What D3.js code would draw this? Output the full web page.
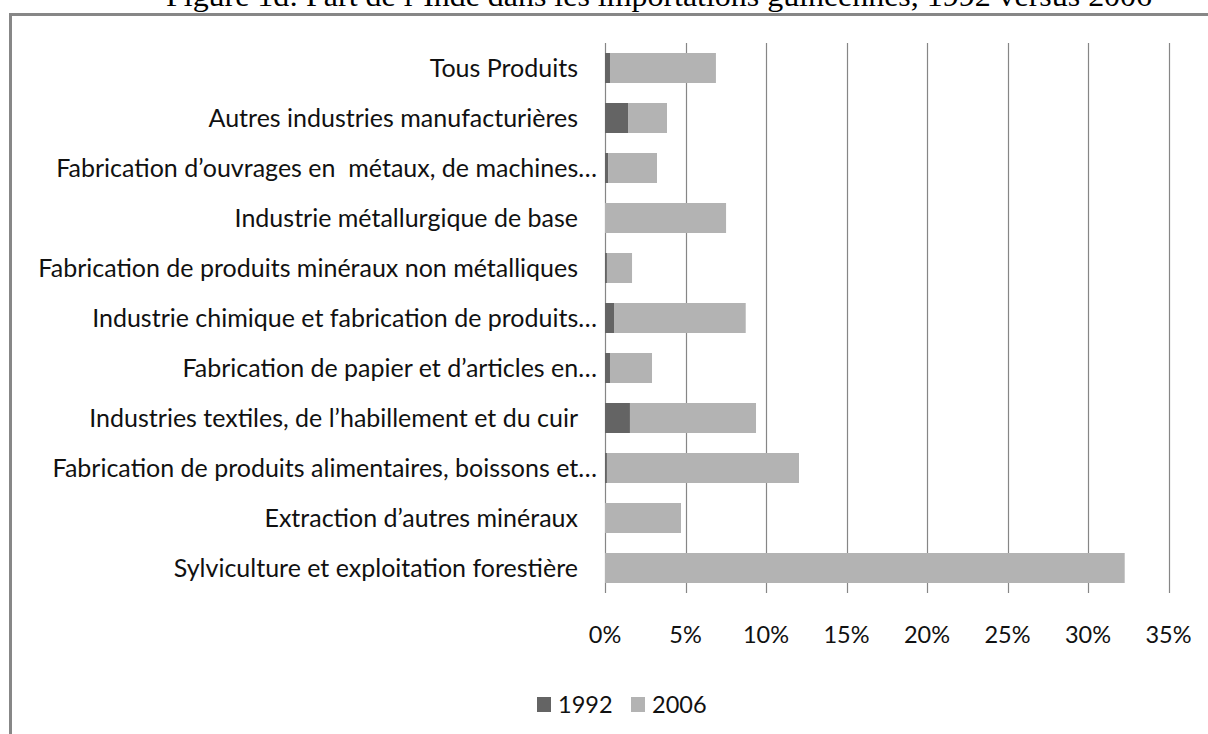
<!DOCTYPE html>
<html>
<head>
<meta charset="utf-8">
<script src="https://cdn.jsdelivr.net/npm/d3@7"></script>
<style>
  body { margin: 0; background: #fff; }
  svg { display: block; }
</style>
</head>
<body>
<svg width="1208" height="734"></svg>
<script>
var categories = [
  "Tous Produits",
  "Autres industries manufacturières",
  "Fabrication d’ouvrages en  métaux, de machines…",
  "Industrie métallurgique de base",
  "Fabrication de produits minéraux non métalliques",
  "Industrie chimique et fabrication de produits…",
  "Fabrication de papier et d’articles en…",
  "Industries textiles, de l’habillement et du cuir",
  "Fabrication de produits alimentaires, boissons et…",
  "Extraction d’autres minéraux",
  "Sylviculture et exploitation forestière"
];
var values1992 = [0.31, 1.43, 0.19, 0, 0.12, 0.56, 0.31, 1.55, 0.12, 0, 0];
var values2006 = [6.58, 2.42, 3.04, 7.52, 1.56, 8.18, 2.61, 7.83, 11.93, 4.72, 32.28];
var xTicks = [0, 5, 10, 15, 20, 25, 30, 35];
var seriesNames = ["1992", "2006"];

var svg = d3.select("svg"),
    font = "Lato, 'Open Sans', sans-serif";

var color = d3.scaleOrdinal().domain(seriesNames).range(["#646464", "#b3b3b3"]);

// title, clipped by the top of the page like in the scan
svg.append("text")
    .attr("x", 659)
    .attr("y", 6)
    .attr("text-anchor", "middle")
    .attr("font-family", "'Liberation Serif', 'Times New Roman', serif")
    .attr("font-size", 30)
    .attr("textLength", 986)
    .attr("lengthAdjust", "spacingAndGlyphs")
    .text("Figure 1d: Part de l’Inde dans les importations guinéennes, 1992 versus 2006");

// chart frame
svg.append("rect")
    .attr("x", 10.5)
    .attr("y", 14.5)
    .attr("width", 1300)
    .attr("height", 800)
    .attr("fill", "none")
    .attr("stroke", "#878787")
    .attr("stroke-width", 3);

var x = d3.scaleLinear().domain([0, 35]).range([605, 1168.5]);
var y = d3.scaleBand().domain(categories).range([43, 593]).paddingInner(0.4).paddingOuter(0.2);

var table = categories.map(function(c, i) {
  return {cat: c, "1992": values1992[i], "2006": values2006[i]};
});
var stacked = d3.stack().keys(seriesNames)(table);

// gridlines
svg.append("g").selectAll("line")
    .data(xTicks)
    .enter().append("line")
    .attr("x1", function(d) { return Math.round(x(d)) + 0.5; })
    .attr("x2", function(d) { return Math.round(x(d)) + 0.5; })
    .attr("y1", 43)
    .attr("y2", 593)
    .attr("stroke", "#868686")
    .attr("stroke-width", 1.2);

// bars
svg.append("g").selectAll("g")
    .data(stacked)
    .enter().append("g")
    .attr("fill", function(d) { return color(d.key); })
    .selectAll("rect")
    .data(function(d) { return d; })
    .enter().append("rect")
    .attr("x", function(d) { return x(d[0]); })
    .attr("width", function(d) { return x(d[1]) - x(d[0]); })
    .attr("y", function(d) { return y(d.data.cat); })
    .attr("height", y.bandwidth());

// category labels (truncated ones sit closer to the axis)
svg.append("g").selectAll("text")
    .data(categories)
    .enter().append("text")
    .attr("x", function(d) { return d.slice(-1) === "…" ? 597 : 578; })
    .attr("y", function(d) { return y(d) + y.bandwidth() / 2; })
    .attr("dy", "0.36em")
    .attr("text-anchor", "end")
    .attr("font-family", font)
    .attr("font-size", 25)
    .attr("fill", "#111")
    .style("white-space", "pre")
    .text(function(d) { return d; });

// x axis labels
svg.append("g").selectAll("text")
    .data(xTicks)
    .enter().append("text")
    .attr("x", function(d) { return x(d); })
    .attr("y", 643)
    .attr("text-anchor", "middle")
    .attr("font-family", font)
    .attr("font-size", 23.5)
    .attr("fill", "#111")
    .text(function(d) { return d + "%"; });

// legend
var legend = svg.append("g").selectAll("g")
    .data(seriesNames)
    .enter().append("g")
    .attr("transform", function(d, i) { return "translate(" + (537 + i * 94) + ",697)"; });

legend.append("rect")
    .attr("width", 14)
    .attr("height", 15)
    .attr("fill", function(d) { return color(d); });

legend.append("text")
    .attr("x", 21)
    .attr("y", 16)
    .attr("font-family", font)
    .attr("font-size", 23.5)
    .attr("fill", "#111")
    .text(function(d) { return d; });
</script>
</body>
</html>
